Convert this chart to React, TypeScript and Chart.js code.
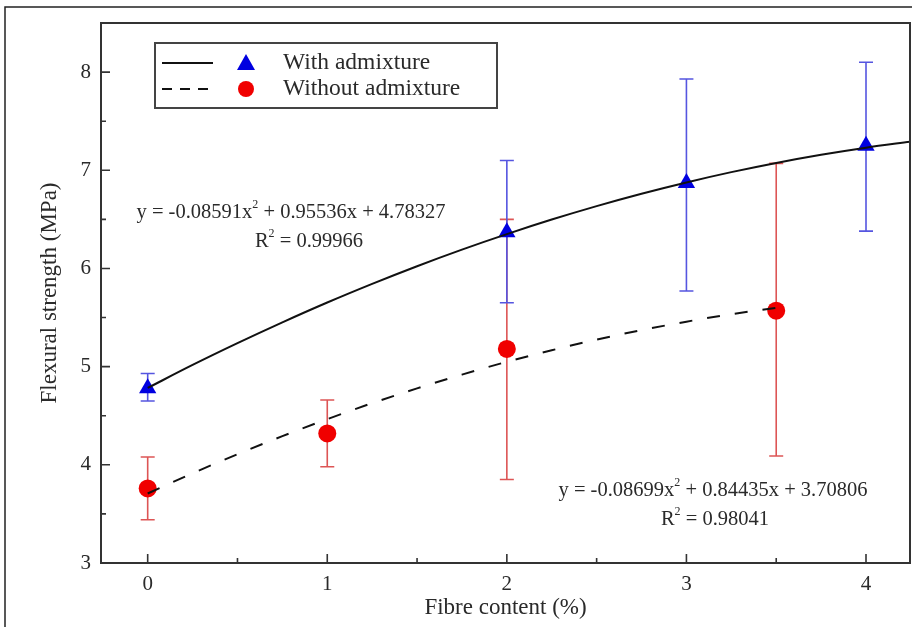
import React, { useEffect, useRef } from "react";
import { Chart, registerables } from "chart.js";

Chart.register(...registerables);

// ---- data ----
const withX = [0, 2, 3, 4];
const withY = [4.78, 6.37, 6.87, 7.25];
const withLow = [4.65, 5.65, 5.77, 6.38];
const withHigh = [4.93, 7.1, 7.93, 8.1];

const withoutX = [0, 1, 2, 3.5];
const withoutY = [3.76, 4.32, 5.18, 5.57];
const withoutLow = [3.44, 3.98, 3.85, 4.09];
const withoutHigh = [4.08, 4.66, 6.5, 7.07];

// fitted curves
const fitWithX = [0, 0.25, 0.5, 0.75, 1, 1.25, 1.5, 1.75, 2, 2.25, 2.5, 2.75, 3, 3.25, 3.5, 3.75, 4, 4.25];
const fitWithY = [4.783, 5.017, 5.239, 5.451, 5.653, 5.843, 6.023, 6.192, 6.35, 6.498, 6.635, 6.761, 6.876, 6.981, 7.075, 7.158, 7.23, 7.292];
const fitWithoutX = [0, 0.25, 0.5, 0.75, 1, 1.25, 1.5, 1.75, 2, 2.25, 2.5, 2.75, 3, 3.25, 3.5];
const fitWithoutY = [3.708, 3.914, 4.108, 4.292, 4.465, 4.628, 4.779, 4.919, 5.049, 5.167, 5.275, 5.372, 5.458, 5.534, 5.598];

const xTickValues = [0, 1, 2, 3, 4];
const xMinorTicks = [0.5, 1.5, 2.5, 3.5];
const yTickValues = [3, 4, 5, 6, 7, 8];
const yMinorTicks = [3.5, 4.5, 5.5, 6.5, 7.5];

const seriesNames = ["With admixture", "Without admixture"];
const eqWith = ["y = -0.08591x", "2", " + 0.95536x + 4.78327"];
const r2With = ["R", "2", " = 0.99966"];
const eqWithout = ["y = -0.08699x", "2", " + 0.84435x + 3.70806"];
const r2Without = ["R", "2", " = 0.98041"];

const FONT = "'Liberation Serif', 'DejaVu Serif', serif";
const BLUE = "#0000e0";
const RED = "#f00000";
const TXT = "#2a2a2a";

function drawRich(ctx: CanvasRenderingContext2D, parts: string[], cx: number, cy: number, size: number) {
  const big = `${size}px ${FONT}`;
  const small = `${Math.round(size * 0.6)}px ${FONT}`;
  ctx.font = big;
  const w0 = ctx.measureText(parts[0]).width;
  const w2 = ctx.measureText(parts[2]).width;
  ctx.font = small;
  const w1 = ctx.measureText(parts[1]).width;
  let x = cx - (w0 + w1 + w2) / 2;
  ctx.textBaseline = "middle";
  ctx.textAlign = "left";
  ctx.fillStyle = TXT;
  ctx.font = big;
  ctx.fillText(parts[0], x, cy);
  x += w0;
  ctx.font = small;
  ctx.fillText(parts[1], x, cy - size * 0.38);
  x += w1;
  ctx.font = big;
  ctx.fillText(parts[2], x, cy);
}

const decor = {
  id: "decor",
  beforeDatasetsDraw(chart: any) {
    const { ctx, scales } = chart;
    const xs = scales.x, ys = scales.y;
    const bars = (xv: number[], lo: number[], hi: number[], color: string) => {
      ctx.save();
      ctx.strokeStyle = color;
      ctx.lineWidth = 1.6;
      xv.forEach((v, i) => {
        const px = xs.getPixelForValue(v);
        const pl = ys.getPixelForValue(lo[i]);
        const ph = ys.getPixelForValue(hi[i]);
        ctx.beginPath();
        ctx.moveTo(px, pl); ctx.lineTo(px, ph);
        ctx.moveTo(px - 7, pl); ctx.lineTo(px + 7, pl);
        ctx.moveTo(px - 7, ph); ctx.lineTo(px + 7, ph);
        ctx.stroke();
      });
      ctx.restore();
    };
    bars(withoutX, withoutLow, withoutHigh, "#dd5555");
    bars(withX, withLow, withHigh, "#5555e0");
  },
  afterDraw(chart: any) {
    const { ctx, chartArea: ca, scales } = chart;
    const xs = scales.x, ys = scales.y;
    ctx.save();
    // outer frame
    ctx.strokeStyle = "#222";
    ctx.lineWidth = 1.5;
    ctx.beginPath();
    ctx.moveTo(5, 627); ctx.lineTo(5, 7); ctx.lineTo(912, 7);
    ctx.stroke();
    // plot box
    ctx.strokeStyle = "#333";
    ctx.lineWidth = 2;
    ctx.strokeRect(ca.left, ca.top, ca.right - ca.left, ca.bottom - ca.top);
    // inward ticks
    ctx.lineWidth = 1.6;
    ctx.beginPath();
    xTickValues.forEach(v => { const p = xs.getPixelForValue(v); ctx.moveTo(p, ca.bottom); ctx.lineTo(p, ca.bottom - 9); });
    xMinorTicks.forEach(v => { const p = xs.getPixelForValue(v); ctx.moveTo(p, ca.bottom); ctx.lineTo(p, ca.bottom - 5); });
    yTickValues.forEach(v => { const p = ys.getPixelForValue(v); ctx.moveTo(ca.left, p); ctx.lineTo(ca.left + 9, p); });
    yMinorTicks.forEach(v => { const p = ys.getPixelForValue(v); ctx.moveTo(ca.left, p); ctx.lineTo(ca.left + 5, p); });
    ctx.stroke();

    // legend
    const lx = ca.left + 54, ly = ca.top + 20;
    ctx.lineWidth = 2;
    ctx.strokeStyle = "#444";
    ctx.strokeRect(lx, ly, 342, 65);
    const rows = [ly + 20, ly + 46];
    ctx.strokeStyle = "#111";
    ctx.lineWidth = 2;
    ctx.beginPath(); ctx.moveTo(lx + 7, rows[0]); ctx.lineTo(lx + 58, rows[0]); ctx.stroke();
    ctx.setLineDash([10, 8]);
    ctx.beginPath(); ctx.moveTo(lx + 7, rows[1]); ctx.lineTo(lx + 58, rows[1]); ctx.stroke();
    ctx.setLineDash([]);
    ctx.fillStyle = BLUE;
    ctx.beginPath();
    ctx.moveTo(lx + 91, rows[0] - 9); ctx.lineTo(lx + 100, rows[0] + 7); ctx.lineTo(lx + 82, rows[0] + 7); ctx.closePath();
    ctx.fill();
    ctx.fillStyle = RED;
    ctx.beginPath(); ctx.arc(lx + 91, rows[1], 8, 0, Math.PI * 2); ctx.fill();
    ctx.fillStyle = TXT;
    ctx.font = `23.5px ${FONT}`;
    ctx.textBaseline = "middle";
    ctx.textAlign = "left";
    ctx.fillText(seriesNames[0], lx + 128, rows[0]);
    ctx.fillText(seriesNames[1], lx + 128, rows[1]);

    // equations
    drawRich(ctx, eqWith, ca.left + 190, ca.top + 190, 20.5);
    drawRich(ctx, r2With, ca.left + 208, ca.top + 219, 20.5);
    drawRich(ctx, eqWithout, ca.left + 612, ca.top + 468, 20.5);
    drawRich(ctx, r2Without, ca.left + 614, ca.top + 497, 20.5);
    ctx.restore();
  },
};

export default function App() {
  const ref = useRef<HTMLCanvasElement | null>(null);
  useEffect(() => {
    document.body.style.margin = "0";
    const canvas = ref.current!;
    const chart = new Chart(canvas, {
      type: "scatter",
      data: {
        datasets: [
          {
            type: "line",
            label: "fitWith",
            data: fitWithX.map((x, i) => ({ x, y: fitWithY[i] })),
            borderColor: "#111",
            borderWidth: 2,
            pointRadius: 0,
            cubicInterpolationMode: "monotone",
            fill: false,
          },
          {
            type: "line",
            label: "fitWithout",
            data: fitWithoutX.map((x, i) => ({ x, y: fitWithoutY[i] })),
            borderColor: "#111",
            borderWidth: 2,
            borderDash: [13, 15],
            pointRadius: 0,
            cubicInterpolationMode: "monotone",
            fill: false,
          },
          {
            label: seriesNames[0],
            data: withX.map((x, i) => ({ x, y: withY[i] })),
            pointStyle: "triangle",
            pointRadius: 10,
            backgroundColor: BLUE,
            borderColor: BLUE,
            borderWidth: 0,
          },
          {
            label: seriesNames[1],
            data: withoutX.map((x, i) => ({ x, y: withoutY[i] })),
            pointStyle: "circle",
            pointRadius: 9,
            backgroundColor: RED,
            borderColor: RED,
            borderWidth: 0,
          },
        ] as any,
      },
      options: {
        animation: false,
        responsive: false,
        maintainAspectRatio: false,
        layout: { autoPadding: false, padding: { top: 23, right: 2, left: 0, bottom: 0 } },
        plugins: { legend: { display: false }, tooltip: { enabled: false } },
        scales: {
          x: {
            type: "linear",
            min: -0.26,
            max: 4.245,
            afterBuildTicks: (s: any) => { s.ticks = xTickValues.map(v => ({ value: v })); },
            afterFit: (s: any) => { s.height = 64; s.paddingLeft = 0; s.paddingRight = 0; },
            grid: { display: false, drawTicks: false },
            border: { display: false },
            ticks: { color: TXT, font: { family: FONT, size: 21 }, padding: 9 },
            title: { display: true, text: "Fibre content (%)", color: TXT, font: { family: FONT, size: 23 }, padding: { top: 0, bottom: 5 } },
          },
          y: {
            type: "linear",
            min: 3,
            max: 8.5,
            afterBuildTicks: (s: any) => { s.ticks = yTickValues.map(v => ({ value: v })); },
            afterFit: (s: any) => { s.width = 101; s.paddingTop = 0; s.paddingBottom = 0; },
            grid: { display: false, drawTicks: false },
            border: { display: false },
            ticks: { color: TXT, font: { family: FONT, size: 21 }, padding: 10 },
            title: { display: true, text: "Flexural strength (MPa)", color: TXT, font: { family: FONT, size: 23 }, padding: { top: 36, bottom: 0 } },
          },
        },
      },
      plugins: [decor],
    } as any);
    return () => chart.destroy();
  }, []);
  return (
    <div style={{ width: 912, height: 627, background: "#fff" }}>
      <canvas ref={ref} width={912} height={627} style={{ display: "block" }} />
    </div>
  );
}
